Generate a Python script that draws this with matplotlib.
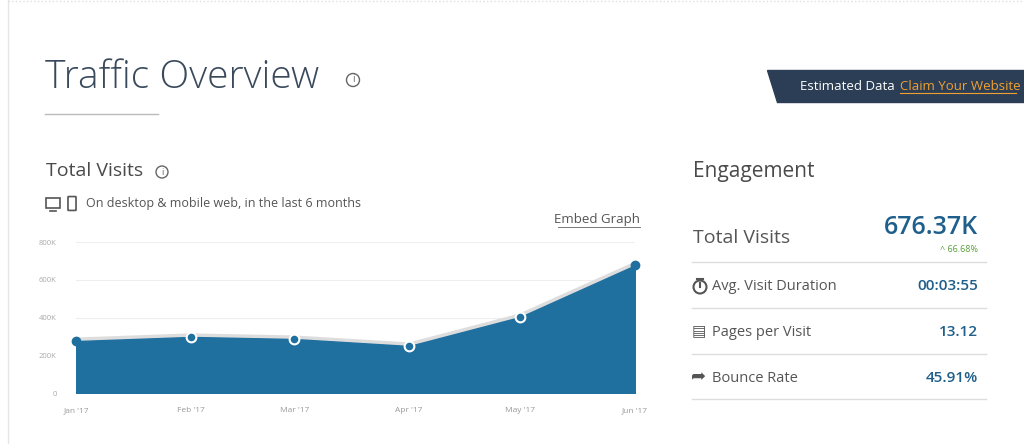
import matplotlib
matplotlib.use("Agg")
import matplotlib.pyplot as plt
from matplotlib.patches import Polygon, Ellipse, Rectangle, FancyBboxPatch
from matplotlib.lines import Line2D
import numpy as np

plt.rcParams['font.family'] = ['Open Sans', 'DejaVu Sans']

months = ["Jan '17", "Feb '17", "Mar '17", "Apr '17", "May '17", "Jun '17"]
month_dates = ["2017-01-01", "2017-02-01", "2017-03-01", "2017-04-01", "2017-05-01", "2017-06-01"]
visits = [275000, 297000, 286000, 249000, 403000, 676370]
yticks = [0, 200000, 400000, 600000, 800000]
ytick_labels = ["0", "200K", "400K", "600K", "800K"]
metric_names = ["Avg. Visit Duration", "Pages per Visit", "Bounce Rate"]
metric_values = ["00:03:55", "13.12", "45.91%"]

W, H = 1024, 444
fig = plt.figure(figsize=(W/100, H/100), dpi=100)
fig.patch.set_facecolor('white')

def fx(x): return x / W
def fy(y): return 1 - y / H

def circ(cx, cy, r, lw=1, color='#666'):
    fig.add_artist(Ellipse((fx(cx), fy(cy)), 2 * r / W, 2 * r / H, transform=fig.transFigure,
                           fill=False, ec=color, lw=lw))

def info_icon(cx, cy, r):
    circ(cx, cy, r)
    fig.text(fx(cx), fy(cy), "i", fontsize=r * 1.1, color='#666', ha='center', va='center')

# page decorations
fig.add_artist(Line2D([fx(8), fx(8)], [0, 1], color='#e6e6e6', lw=1))
fig.add_artist(Line2D([fx(8), 1], [fy(1), fy(1)], color='#e0e0e0', lw=1, ls=':'))
fig.text(fx(45), fy(78), "Traffic Overview", fontsize=28, color='#3a4a5c', va='center', fontweight='light')
info_icon(353, 80, 6.5)
fig.add_artist(Line2D([fx(45), fx(158)], [fy(114), fy(114)], color='#bbb', lw=1))

# banner
fig.add_artist(Polygon([[fx(767), fy(70)], [1, fy(70)], [1, fy(102)], [fx(777), fy(102)]],
                       closed=True, color='#2c3e55', transform=fig.transFigure))
fig.text(fx(800), fy(86), "Estimated Data", fontsize=9.5, color='white', va='center')
fig.text(fx(900), fy(86), "Claim Your Website", fontsize=9.5, color='#f0a030', va='center')
fig.add_artist(Line2D([fx(900), fx(1016)], [fy(93), fy(93)], color='#f0a030', lw=0.8))

# left headers
fig.text(fx(46), fy(171), "Total Visits", fontsize=14, color='#4a4a4a', va='center')
info_icon(162, 172, 6)
# desktop & mobile icons
fig.add_artist(Rectangle((fx(46), fy(208)), 14 / W, 10 / H, transform=fig.transFigure,
                         fill=False, ec='#555', lw=1.2))
fig.add_artist(Line2D([fx(50), fx(56)], [fy(211), fy(211)], color='#555', lw=1.2))
fig.add_artist(FancyBboxPatch((fx(69), fy(210)), 6 / W, 13 / H, boxstyle="round,pad=0.001",
                              transform=fig.transFigure, fill=False, ec='#555', lw=1.2))
fig.text(fx(86), fy(203), "On desktop & mobile web, in the last 6 months", fontsize=9, color='#555', va='center')
fig.text(fx(640), fy(219), "Embed Graph", fontsize=9.5, color='#555', va='center', ha='right')
fig.add_artist(Line2D([fx(558), fx(640)], [fy(227), fy(227)], color='#777', lw=0.7))

# chart
ax = fig.add_axes([fx(76), fy(393), fx(635) - fx(76), fy(242) - fy(393)])
d = np.array(month_dates, dtype='datetime64[D]')
x = (d - d[0]).astype(float)
ax.fill_between(x, visits, 0, color='#1f6f9f', zorder=2)
ax.plot(x, [v + 8000 for v in visits], color='#dddddd', lw=3, zorder=1)
ax.plot(x[1:5], visits[1:5], 'o', ms=7, mfc='#1f6f9f', mec='white', mew=1.5, zorder=4)
ax.plot(x[[0, 5]], [visits[0], visits[5]], 'o', ms=6, mfc='#1f6f9f', mec='#1f6f9f', zorder=4, clip_on=False)
ax.set_xlim(x[0], x[-1])
ax.set_ylim(0, 800000)
ax.set_yticks(yticks)
ax.set_yticklabels(ytick_labels, fontsize=5.5, color='#aaa')
ax.set_xticks(x)
ax.set_xticklabels(months, fontsize=6, color='#999')
ax.tick_params(axis='x', length=0, pad=10)
ax.tick_params(axis='y', length=0, pad=14)
ax.grid(axis='y', color='#eeeeee', lw=0.8, zorder=0)
ax.set_axisbelow(True)
for s in ax.spines.values():
    s.set_visible(False)

# engagement panel
fig.text(fx(693), fy(171), "Engagement", fontsize=15, color='#4a4a4a', va='center')
fig.text(fx(693), fy(238), "Total Visits", fontsize=14, color='#555', va='center')
fig.text(fx(978), fy(227), "676.37K", fontsize=18, color='#1f5f8b', va='center', ha='right', fontweight='semibold')
fig.text(fx(978), fy(249), "^ 66.68%", fontsize=6.5, color='#5a9e3a', va='center', ha='right')
row_y = [286, 332, 378]
# stopwatch icon
circ(700, 287, 6.5, lw=1.5, color='#555')
fig.add_artist(Line2D([fx(700), fx(700)], [fy(287), fy(283)], color='#555', lw=1.5))
fig.add_artist(Line2D([fx(697), fx(703)], [fy(279), fy(279)], color='#555', lw=1.5))
fig.text(fx(692), fy(row_y[1]), "▤", fontsize=11, color='#555', va='center', family=['DejaVu Sans'])
fig.text(fx(691), fy(row_y[2]), "➦", fontsize=13, color='#555', va='center', family=['DejaVu Sans'])
for i, (n, v) in enumerate(zip(metric_names, metric_values)):
    fig.text(fx(712), fy(row_y[i]), n, fontsize=10.5, color='#555', va='center')
    fig.text(fx(978), fy(row_y[i]), v, fontsize=11, color='#1f5f8b', va='center', ha='right', fontweight='semibold')
for yy in [262, 308, 354, 399]:
    fig.add_artist(Line2D([fx(692), fx(986)], [fy(yy), fy(yy)], color='#dddddd', lw=1))

fig.savefig("out.png", dpi=100)
